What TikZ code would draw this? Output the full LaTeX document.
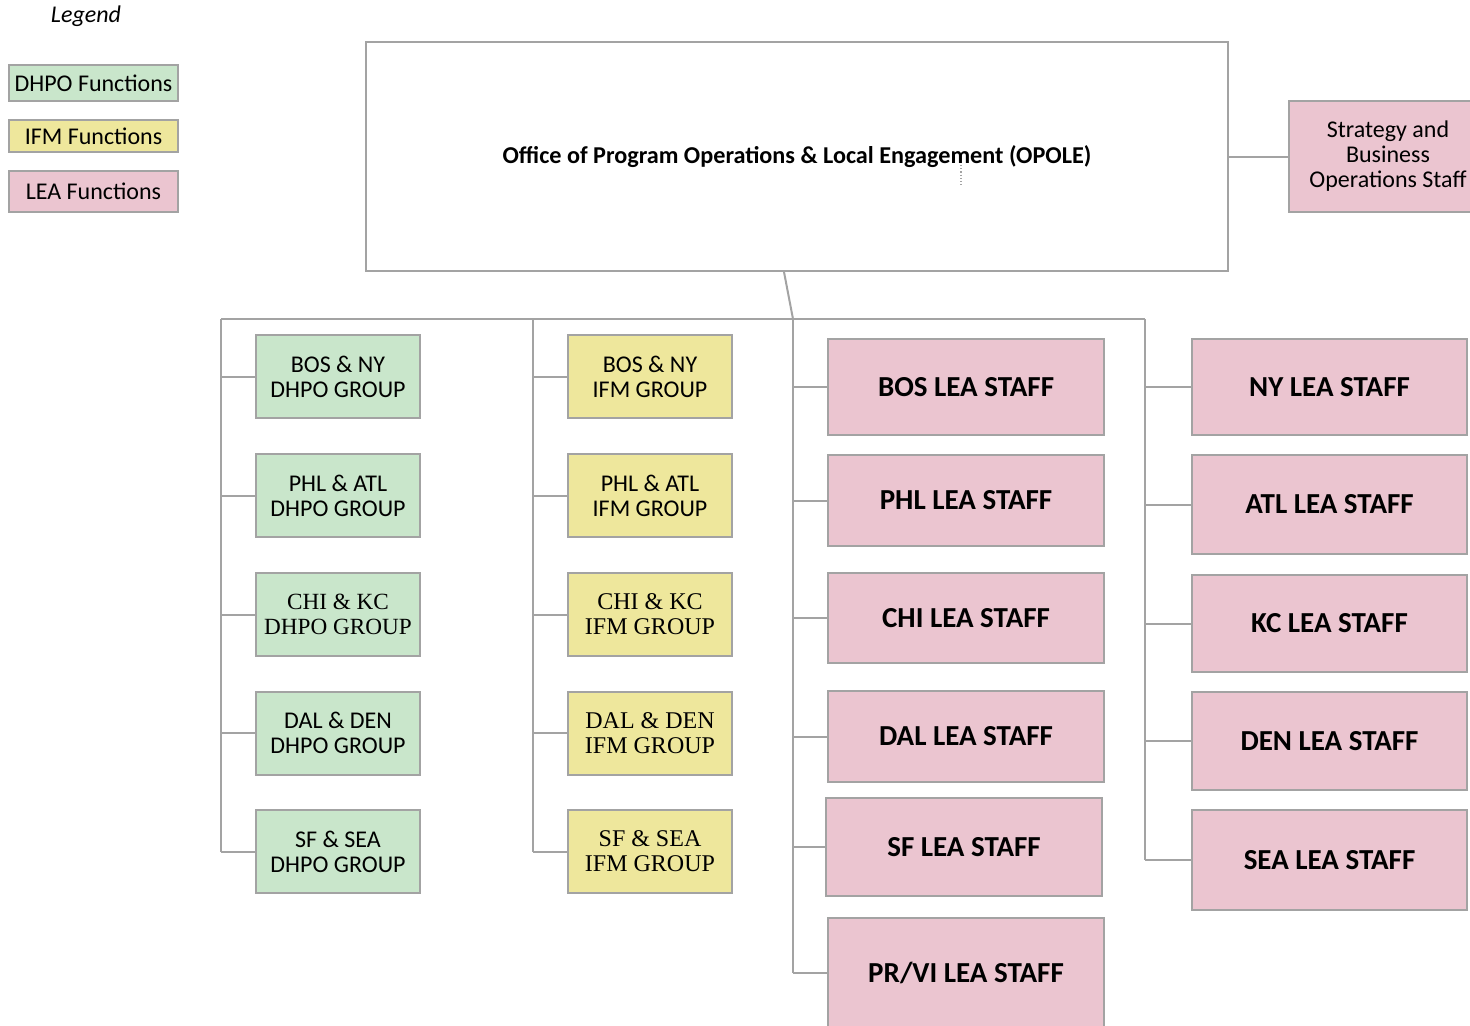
\documentclass[tikz,border=0pt]{standalone}
\usepackage{fontspec}
\setmainfont{Carlito}
\newfontfamily\ifmserif{Liberation Serif}

\definecolor{dhpogreen}{HTML}{C9E6CB}
\definecolor{ifmyellow}{HTML}{EEE79C}
\definecolor{leapink}{HTML}{EBC5D0}
\definecolor{rulegray}{HTML}{A3A3A3}

\begin{document}
\begin{tikzpicture}[x=0.5pt,y=-0.5pt,
    box/.style={draw=rulegray,line width=1pt,align=center,inner sep=0pt},
    legendbox/.style={box,minimum width=84.5pt,font=\fontsize{12}{12.5}\selectfont},
    dhpo/.style={box,fill=dhpogreen,minimum width=82pt,minimum height=41.5pt,font=\fontsize{12}{12.5}\selectfont},
    ifm/.style={box,fill=ifmyellow,minimum width=82pt,minimum height=41.5pt,font=\fontsize{12}{12.5}\selectfont},
    lea/.style={box,fill=leapink,minimum width=138pt,font=\bfseries\fontsize{14.5}{15}\selectfont},
    conn/.style={draw=rulegray,line width=1pt}]
      \useasboundingbox (0,0) rectangle (1470,1025);
      \clip (0,0) rectangle (1470,1025);
      %this draws the legend
      \node [font=\itshape\fontsize{12}{12.5}\selectfont] (legend) at (86,16) {Legend};
      \node [legendbox,fill=dhpogreen,minimum height=18pt] (keydhpo) at (93.5,83) {DHPO Functions};
      \node [legendbox,fill=ifmyellow,minimum height=16pt] (keyifm) at (93.5,136) {IFM Functions};
      \node [legendbox,fill=leapink,minimum height=20.5pt] (keylea) at (93.5,191.5) {LEA Functions};
      %this draws the top boxes
      \node [box,minimum width=431pt,minimum height=114.5pt,font=\bfseries\fontsize{12.1}{12.5}\selectfont] (opole) at (797,156.5)
        {Office of Program Operations \& Local Engagement (OPOLE)};
      \node [box,fill=leapink,minimum width=99pt,minimum height=55.5pt,font=\fontsize{12}{12.5}\selectfont] (strat) at (1388,156.5)
        {Strategy and\\Business\\Operations Staff};
      \draw [rulegray,densely dotted,line width=0.6pt] (961,165) -- (961,186);
      %this draws the DHPO groups
      \node [dhpo] (d1) at (338,376.5) {BOS \& NY\\DHPO GROUP};
      \node [dhpo] (d2) at (338,495.5) {PHL \& ATL\\DHPO GROUP};
      \node [dhpo,font=\ifmserif\fontsize{11.6}{12.5}\selectfont] (d3) at (338,614.5) {CHI \& KC\\DHPO GROUP};
      \node [dhpo] (d4) at (338,733) {DAL \& DEN\\DHPO GROUP};
      \node [dhpo] (d5) at (338,851.5) {SF \& SEA\\DHPO GROUP};
      %this draws the IFM groups
      \node [ifm] (i1) at (650,376.5) {BOS \& NY\\IFM GROUP};
      \node [ifm] (i2) at (650,495.5) {PHL \& ATL\\IFM GROUP};
      \node [ifm,font=\ifmserif\fontsize{12}{12.5}\selectfont] (i3) at (650,614.5) {CHI \& KC\\IFM GROUP};
      \node [ifm,font=\ifmserif\fontsize{12}{12.5}\selectfont] (i4) at (650,733) {DAL \& DEN\\IFM GROUP};
      \node [ifm,font=\ifmserif\fontsize{12}{12.5}\selectfont] (i5) at (650,851.5) {SF \& SEA\\IFM GROUP};
      %this draws the LEA staff
      \node [lea,minimum height=48pt] (l1) at (966,387) {BOS LEA STAFF};
      \node [lea,minimum height=45.5pt] (l2) at (966,500.5) {PHL LEA STAFF};
      \node [lea,minimum height=45pt] (l3) at (966,618) {CHI LEA STAFF};
      \node [lea,minimum height=45.5pt] (l4) at (966,736.5) {DAL LEA STAFF};
      \node [lea,minimum height=49pt] (l5) at (964,847) {SF LEA STAFF};
      \node [lea,minimum height=55pt] (l6) at (966,973) {PR/VI LEA STAFF};
      \node [lea,minimum width=137.5pt,minimum height=48pt] (r1) at (1329.5,387) {NY LEA STAFF};
      \node [lea,minimum width=137.5pt,minimum height=49.5pt] (r2) at (1329.5,504.5) {ATL LEA STAFF};
      \node [lea,minimum width=137.5pt,minimum height=48.5pt] (r3) at (1329.5,623.5) {KC LEA STAFF};
      \node [lea,minimum width=137.5pt,minimum height=49pt] (r4) at (1329.5,741) {DEN LEA STAFF};
      \node [lea,minimum width=137.5pt,minimum height=50pt] (r5) at (1329.5,860) {SEA LEA STAFF};
      %this draws the lines
      \coordinate (hub) at (793,319);
      \coordinate (dtop) at (221,319);
      \coordinate (itop) at (533,319);
      \coordinate (rtop) at (1145,319);
      \draw [conn] (opole.east) -- (strat.west);
      \draw [conn] ([xshift=-6.5pt]opole.south) -- (hub);
      \draw [conn] (dtop) -- (rtop);
      \draw [conn] (dtop) -- (dtop |- d5.west);
      \draw [conn] (itop) -- (itop |- i5.west);
      \draw [conn] (hub) -- (hub |- l6.west);
      \draw [conn] (rtop) -- (rtop |- r5.west);
      \foreach \x in {1,...,5}
        \draw [conn] (d\x.west -| dtop) -- (d\x.west);
      \foreach \x in {1,...,5}
        \draw [conn] (i\x.west -| itop) -- (i\x.west);
      \foreach \x in {1,...,6}
        \draw [conn] (l\x.west -| hub) -- (l\x.west);
      \foreach \x in {1,...,5}
        \draw [conn] (r\x.west -| rtop) -- (r\x.west);
\end{tikzpicture}
\end{document}
